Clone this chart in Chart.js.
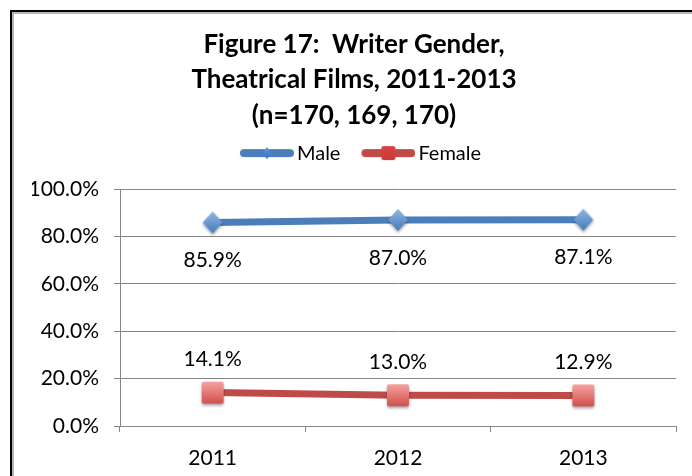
<!DOCTYPE html>
<html>
<head>
<meta charset="utf-8">
<script src="https://cdn.jsdelivr.net/npm/chart.js@4.4.1/dist/chart.umd.min.js"></script>
<style>
	html, body { margin: 0; padding: 0; background: #fff; overflow: hidden; }
	.frame {
		position: absolute; left: 10px; top: 10px;
		width: 712px; height: 480px;
		border: 2px solid #000;
		box-shadow: inset 2px 2px 0 #b4b4b4;
	}
	canvas { display: block; }
</style>
</head>
<body>
<div class="frame"><canvas id="chart17" width="704" height="470"></canvas></div>
<script>
	// Chart data
	const years = ['2011', '2012', '2013'];
	const maleShare = [85.9, 87.0, 87.1];
	const femaleShare = [14.1, 13.0, 12.9];
	const yTicks = [0, 20, 40, 60, 80, 100];
	const titleLines = ['Figure 17:  Writer Gender,', 'Theatrical Films, 2011-2013', '(n=170, 169, 170)'];

	const blueLine = '#4a7ebb';
	const redLine = '#be4b48';

	Chart.defaults.font.family = 'Lato, "Open Sans", sans-serif';
	Chart.defaults.color = '#000';

	// Excel-like marker with gradient + soft shadow
	function drawMarker(ctx, shape, cx, cy, half, light, dark) {
		const grad = ctx.createLinearGradient(0, cy - half, 0, cy + half);
		grad.addColorStop(0, light);
		grad.addColorStop(1, dark);
		ctx.beginPath();
		if (shape === 'diamond') {
			ctx.moveTo(cx, cy - half - 1);
			ctx.lineTo(cx + half, cy);
			ctx.lineTo(cx, cy + half + 1);
			ctx.lineTo(cx - half, cy);
			ctx.closePath();
		} else {
			ctx.roundRect(cx - half, cy - half, half * 2, half * 2, 2);
		}
		ctx.fillStyle = grad;
		ctx.fill();
	}

	function makeMarker(shape, half, light, dark) {
		const c = document.createElement('canvas');
		c.width = half * 2 + 8;
		c.height = half * 2 + 10;
		const ctx = c.getContext('2d');
		ctx.shadowColor = 'rgba(0,0,0,0.35)';
		ctx.shadowBlur = 3;
		ctx.shadowOffsetY = 2;
		drawMarker(ctx, shape, c.width / 2, c.height / 2, half, light, dark);
		return c;
	}

	// legend icon: thick line with small marker in the middle
	function makeLegendIcon(shape, color, half, light, dark) {
		const c = document.createElement('canvas');
		c.width = 74;
		c.height = 20;
		const ctx = c.getContext('2d');
		ctx.strokeStyle = color;
		ctx.lineWidth = 8;
		ctx.lineCap = 'round';
		ctx.beginPath();
		ctx.moveTo(24, 10);
		ctx.lineTo(70, 10);
		ctx.stroke();
		drawMarker(ctx, shape, 47, 10, half, light, dark);
		return c;
	}

	const maleMarker = makeMarker('diamond', 10, '#8db4e3', '#4a7ebb');
	const femaleMarker = makeMarker('square', 11, '#f5a3a1', '#d0504d');
	const maleIcon = makeLegendIcon('diamond', blueLine, 5, '#5b93d8', '#3d72c0');
	const femaleIcon = makeLegendIcon('square', redLine, 7, '#d9413e', '#cc3a37');

	// value labels under / over each point
	const pointLabels = {
		id: 'pointLabels',
		afterDatasetsDraw(chart) {
			const ctx = chart.ctx;
			ctx.save();
			ctx.font = '21px ' + Chart.defaults.font.family;
			ctx.fillStyle = '#000';
			ctx.textAlign = 'center';
			ctx.textBaseline = 'middle';
			chart.data.datasets.forEach((ds, i) => {
				chart.getDatasetMeta(i).data.forEach((pt, j) => {
					ctx.fillText(ds.data[j].toFixed(1) + '%', pt.x, pt.y + ds.labelOffset);
				});
			});
			ctx.restore();
		}
	};

	const dataChart17 = {
		labels: years,
		datasets: [{
			label: 'Male',
			data: maleShare,
			borderColor: blueLine,
			borderWidth: 7,
			pointStyle: maleMarker,
			pointRadius: 10,
			legendIcon: maleIcon,
			labelOffset: 38,
			tension: 0
		}, {
			label: 'Female',
			data: femaleShare,
			borderColor: redLine,
			borderWidth: 7,
			pointStyle: femaleMarker,
			pointRadius: 10,
			legendIcon: femaleIcon,
			labelOffset: -33,
			tension: 0
		}]
	};

	const configChart17 = {
		type: 'line',
		data: dataChart17,
		plugins: [pointLabels],
		options: {
			responsive: false,
			animation: false,
			events: [],
			layout: {
				padding: { left: 20, right: 40, top: 0, bottom: 0 }
			},
			plugins: {
				tooltip: { enabled: false },
				title: {
					display: true,
					text: titleLines,
					color: '#000',
					font: { size: 26, weight: 'bold', lineHeight: 1.36 },
					padding: { top: 15, bottom: 2 }
				},
				// empty spacer between legend and plot
				subtitle: {
					display: true,
					text: '',
					weight: 500,
					font: { size: 16, lineHeight: 1 },
					padding: 0
				},
				legend: {
					display: true,
					labels: {
						usePointStyle: true,
						pointStyleWidth: 60,
						padding: 8,
						color: '#000',
						font: { size: 20 },
						generateLabels: (chart) => chart.data.datasets.map((ds, i) => ({
							text: ds.label,
							pointStyle: ds.legendIcon,
							datasetIndex: i,
							fillStyle: ds.borderColor,
							strokeStyle: ds.borderColor,
							lineWidth: 0,
							hidden: false
						}))
					}
				}
			},
			scales: {
				y: {
					min: 0,
					max: 100,
					afterBuildTicks: (scale) => { scale.ticks = yTicks.map(v => ({ value: v })); },
					afterFit: (scale) => { scale.width = 88; },
					ticks: {
						callback: (v) => v.toFixed(1) + '%',
						padding: 15,
						color: '#000',
						font: { size: 21 }
					},
					grid: { color: '#868686', tickLength: 6 },
					border: { color: '#868686' }
				},
				x: {
					offset: true,
					afterFit: (scale) => { scale.height = 56; },
					ticks: {
						padding: 14,
						color: '#000',
						font: { size: 21 }
					},
					grid: { offset: true, drawOnChartArea: false, tickLength: 6, color: '#868686' },
					border: { color: '#868686' }
				}
			}
		}
	};

	const chart17 = document.getElementById('chart17');
	const myChart17 = new Chart(chart17, configChart17);
</script>
</body>
</html>
